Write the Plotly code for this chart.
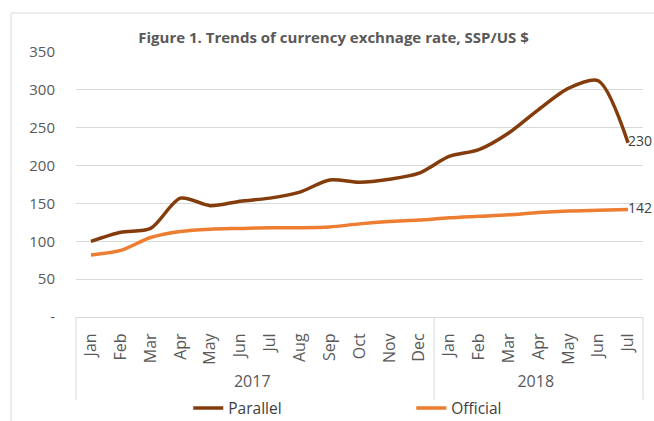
import plotly.graph_objects as go

years = ["2017"] * 12 + ["2018"] * 7
months = ["Jan", "Feb", "Mar", "Apr", "May", "Jun", "Jul", "Aug", "Sep", "Oct", "Nov", "Dec",
          "Jan", "Feb", "Mar", "Apr", "May", "Jun", "Jul"]
parallel = [100, 112, 117, 157, 147, 153, 157, 165, 181, 178, 182, 190,
            212, 221, 243, 274, 302, 312, 230]
official = [82, 88, 105, 113, 116, 117, 118, 118, 119, 123, 126, 128,
            131, 133, 135, 138, 140, 141, 142]
ytick_vals = [0, 50, 100, 150, 200, 250, 300, 350]
ytick_text = ["-", "50", "100", "150", "200", "250", "300", "350"]

FONT = "Open Sans"
GRAY = "#595959"
BOX = "#d9d9d9"

def last_label(vals):
    return [""] * (len(vals) - 1) + [str(vals[-1])]

fig = go.Figure()
fig.add_trace(go.Scatter(
    x=[years, months], y=parallel, name="Parallel", mode="lines+text",
    line=dict(color="#843C0C", width=3.5, shape="spline", smoothing=0.8),
    text=last_label(parallel), textposition="middle right",
    textfont=dict(family=FONT, size=14, color="#404040"), cliponaxis=False,
))
fig.add_trace(go.Scatter(
    x=[years, months], y=official, name="Official", mode="lines+text",
    line=dict(color="#ED7D31", width=3.5, shape="spline", smoothing=0.8),
    text=last_label(official), textposition="middle right",
    textfont=dict(family=FONT, size=14, color="#404040"), cliponaxis=False,
))

# group boundaries of the year axis (left edge, year change, right edge) in paper units
n = len(months)
split = years.count("2017") / n
box_bottom = -0.313
shapes = [dict(type="line", xref="paper", yref="paper",
               x0=-0.1146, x1=1.1, y0=1.147, y1=1.147, line=dict(color=BOX, width=1)),
          dict(type="line", xref="paper", yref="paper",
               x0=-0.1146, x1=-0.1146, y0=1.147, y1=-0.5, line=dict(color=BOX, width=1))]
for xp in (0, split, 1):
    shapes.append(dict(type="line", xref="paper", yref="paper",
                       x0=xp, x1=xp, y0=0, y1=box_bottom, line=dict(color=BOX, width=1)))

fig.update_layout(
    width=654, height=421,
    margin=dict(l=76, r=11, t=52, b=104, autoexpand=False),
    paper_bgcolor="white", plot_bgcolor="white",
    font=dict(family=FONT, color=GRAY, size=14),
    title=dict(text="<b>Figure 1. Trends of currency exchnage rate, SSP/US $</b>",
               x=0.51, xanchor="center", y=0.91, yanchor="middle",
               font=dict(family=FONT, size=15, color=GRAY)),
    showlegend=True,
    legend=dict(orientation="h", x=0.198, xanchor="left", y=-0.345, yanchor="middle",
                font=dict(family=FONT, size=15.5, color="#404040"),
                entrywidth=178, entrywidthmode="pixels", itemwidth=30,
                bgcolor="rgba(0,0,0,0)"),
    shapes=shapes,
)
fig.update_yaxes(range=[0, 350], tickvals=ytick_vals, ticktext=ytick_text,
                 showgrid=True, gridcolor=BOX, gridwidth=1,
                 zeroline=False, showline=False, ticks="", automargin=False,
                 tickfont=dict(family=FONT, size=15, color=GRAY), ticklabelstandoff=20)
fig.update_xaxes(type="multicategory", range=[-0.5, 18.5], tickangle=-90,
                 showline=True, linecolor=BOX, linewidth=1, mirror=False,
                 showgrid=False, ticks="", showdividers=False, automargin=False,
                 ticklabelstandoff=9,
                 tickfont=dict(family=FONT, size=16, color=GRAY))

fig.write_html("out.html", config={"displayModeBar": False},
               post_script="document.body.style.margin='0';document.body.style.padding='0';")
